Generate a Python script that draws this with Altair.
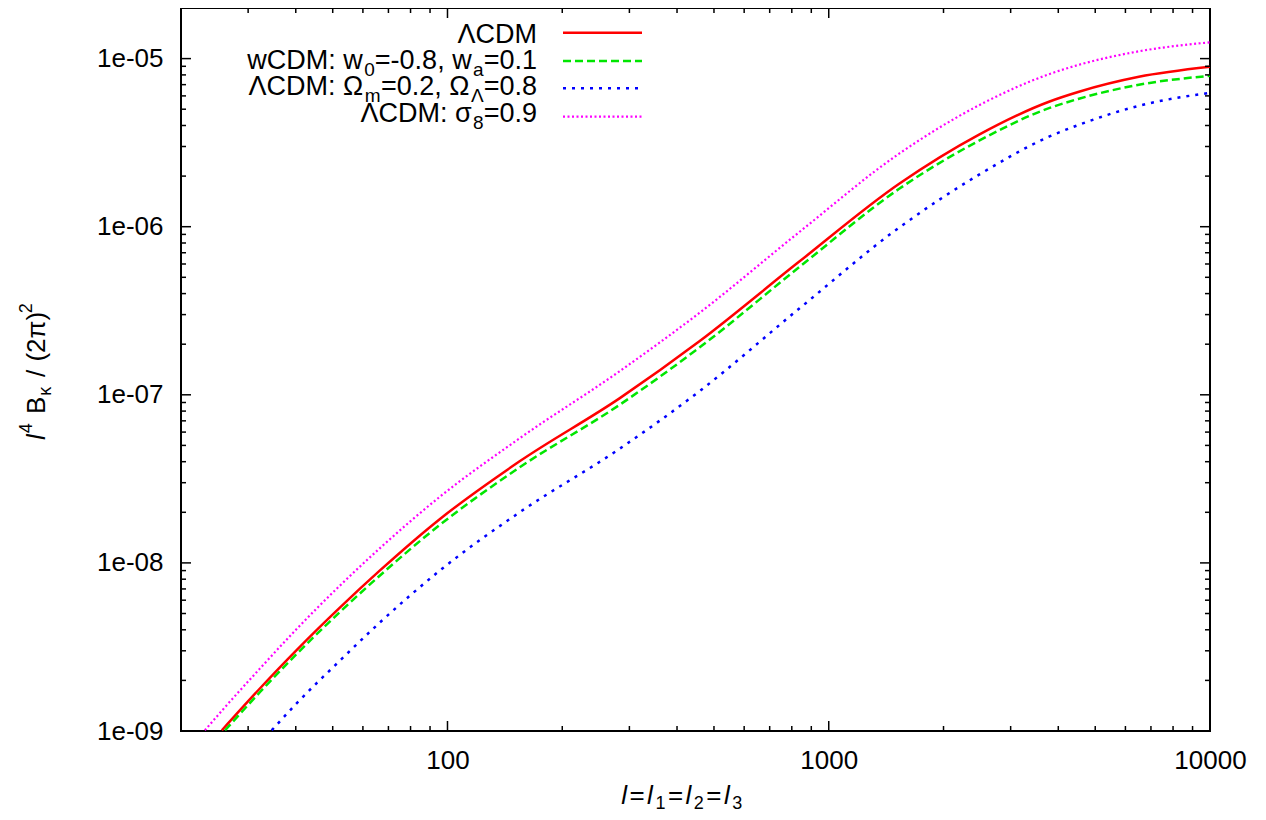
import altair as alt
import pandas as pd

# ---------------- data ----------------
ELL_LCDM = [25.6, 32.2, 40.2, 52.2, 66.4, 95.4, 154.6, 282.6, 457.9, 837, 1530, 2479, 3781, 4532, 6508, 10000]
B_LCDM = [1.01e-9, 1.79e-9, 3.03e-9, 5.42e-9, 8.99e-9, 1.82e-8, 4.02e-8, 9.52e-8, 2.08e-7, 6.20e-7, 1.80e-6, 3.53e-6, 5.54e-6, 6.35e-6, 7.79e-6, 8.94e-6]

ELL_WCDM = [26.1, 32.2, 40.2, 52.2, 66.4, 95.4, 154.6, 282.6, 457.9, 837, 1530, 2479, 3781, 4532, 6508, 10000]
B_WCDM = [1.01e-9, 1.70e-9, 2.87e-9, 5.10e-9, 8.39e-9, 1.68e-8, 3.70e-8, 8.71e-8, 1.91e-7, 5.75e-7, 1.68e-6, 3.25e-6, 5.07e-6, 5.77e-6, 6.99e-6, 7.90e-6]

ELL_OM = [34.6, 40.2, 52.2, 66.4, 95.4, 154.6, 282.6, 457.9, 837, 1530, 2479, 3781, 4532, 6508, 10000]
B_OM = [1.01e-9, 1.46e-9, 2.62e-9, 4.41e-9, 8.99e-9, 2.00e-8, 4.77e-8, 1.05e-7, 3.26e-7, 9.88e-7, 2.04e-6, 3.43e-6, 4.04e-6, 5.24e-6, 6.26e-6]

ELL_S8 = [23.1, 25.6, 32.2, 40.2, 52.2, 66.4, 95.4, 154.6, 282.6, 457.9, 837, 1530, 2479, 3781, 4532, 6508, 10000]
B_S8 = [1.01e-9, 1.32e-9, 2.35e-9, 4.04e-9, 7.32e-9, 1.22e-8, 2.47e-8, 5.51e-8, 1.38e-7, 3.07e-7, 9.29e-7, 2.72e-6, 5.28e-6, 8.07e-6, 9.19e-6, 1.105e-5, 1.25e-5]

X_DOMAIN = [20, 10000]
Y_DOMAIN = [1e-9, 2e-5]
X_LABELS = [100, 1000, 10000]
Y_LABELS = [1e-9, 1e-8, 1e-7, 1e-6, 1e-5]
X_MINOR = [m * d for d in (10, 100, 1000) for m in range(2, 10) if m * d >= 20]
Y_MINOR = [m * d for d in (1e-9, 1e-8, 1e-7, 1e-6, 1e-5) for m in range(2, 10) if m * d <= 2e-5]

# ---------------- layout ----------------
W, H = 1029, 723
FONT = "Liberation Sans"
FS = 26
FS_SUB = 18
FS_LEG = 27
FS_LEG_SUB = 19

xscale = alt.Scale(type="log", domain=X_DOMAIN)
yscale = alt.Scale(type="log", domain=Y_DOMAIN)

XAX = alt.Axis(values=X_LABELS, format="d", ticks=False, domain=False, grid=False,
               labelFont=FONT, labelFontSize=FS, labelColor="black", labelPadding=16,
               title=None, labelFlush=False, labelOverlap=False)
YAX = alt.Axis(values=Y_LABELS, labelExpr="'1e-0' + format(-round(log(datum.value)/LN10), 'd')",
               ticks=False, domain=False, grid=False, labelFont=FONT, labelFontSize=FS,
               labelColor="black", labelPadding=18, title=None, labelFlush=False,
               labelOverlap=False)

layers = []


def series(ell, b, color, width, dash=None):
    df = pd.DataFrame({"l": ell, "b": b})
    kw = dict(color=color, strokeWidth=width, interpolate="monotone", clip=True)
    if dash:
        kw["strokeDash"] = dash
    return alt.Chart(df).mark_line(**kw).encode(
        x=alt.X("l:Q", scale=xscale, axis=XAX),
        y=alt.Y("b:Q", scale=yscale, axis=YAX),
    )


RED, GREEN, BLUE, MAGENTA = "#ff0000", "#00e600", "#0000ff", "#ff00ff"
DASH_G, DASH_B, DASH_M = [8, 4], [3, 6], [2, 2.5]

layers.append(series(ELL_LCDM, B_LCDM, RED, 2.5))
layers.append(series(ELL_WCDM, B_WCDM, GREEN, 2.5, dash=DASH_G))
layers.append(series(ELL_OM, B_OM, BLUE, 2.5, dash=DASH_B))
layers.append(series(ELL_S8, B_S8, MAGENTA, 2.2, dash=DASH_M))


# ---------------- inward ticks on all four sides ----------------
def xticks(vals, length):
    df = pd.DataFrame({"v": vals})
    base = alt.Chart(df).mark_rule(color="black", strokeWidth=1.5)
    enc = alt.X("v:Q", scale=xscale, axis=XAX)
    return [base.encode(x=enc, y=alt.value(H), y2=alt.value(H - length)),
            base.encode(x=enc, y=alt.value(0), y2=alt.value(length))]


def yticks(vals, length):
    df = pd.DataFrame({"v": vals})
    base = alt.Chart(df).mark_rule(color="black", strokeWidth=1.5)
    enc = alt.Y("v:Q", scale=yscale, axis=YAX)
    return [base.encode(y=enc, x=alt.value(0), x2=alt.value(length)),
            base.encode(y=enc, x=alt.value(W), x2=alt.value(W - length))]


layers += xticks(X_LABELS, 10) + xticks(X_MINOR, 5)
layers += yticks(Y_LABELS, 10) + yticks(Y_MINOR, 5)

# ---------------- text helpers ----------------
ONE = pd.DataFrame({"k": [0]})

# approximate advance widths (em) of Liberation Sans, used only to chain text pieces
ADV = {"0": .556, "1": .556, "2": .556, "3": .556, "4": .556, "5": .556, "6": .556, "7": .556,
       "8": .556, "9": .556, "=": .584, "-": .333, ".": .278, ",": .278, " ": .278, ":": .278,
       "w": .722, "C": .722, "D": .722, "M": .833, "a": .556, "m": .833, "B": .667, "l": .222,
       "/": .278, "(": .333, ")": .333, "\u039b": .667, "\u03a9": .768, "\u03c3": .6,
       "\u03ba": .52, "\u03c0": .6}


def tw(s, size):
    return sum(ADV.get(c, .556) for c in s) * size


def txt(s, x, y, size=FS, align="left", italic=False, angle=0):
    kw = dict(text=s, font=FONT, fontSize=size, color="black", align=align, baseline="alphabetic")
    if italic:
        kw["fontStyle"] = "italic"
    if angle:
        kw["angle"] = angle
    return alt.Chart(ONE).mark_text(**kw).encode(x=alt.value(x), y=alt.value(y))


# legend (key) text: right aligned rows with subscripts, chained from the right edge
R = 356
SUB_DROP = 7
legend_rows = [
    (34.5, [("\u039bCDM", 0)]),
    (60.5, [("wCDM: w", 0), ("0", 1), ("=-0.8, w", 0), ("a", 1), ("=0.1", 0)]),
    (87.0, [("\u039bCDM: \u03a9", 0), ("m", 1), ("=0.2, \u03a9", 0), ("\u039b", 1), ("=0.8", 0)]),
    (114.0, [("\u039bCDM: \u03c3", 0), ("8", 1), ("=0.9", 0)]),
]
for base_y, segs in legend_rows:
    cur = R
    for s, sub in reversed(segs):
        size = FS_LEG_SUB if sub else FS_LEG
        layers.append(txt(s, cur, base_y + (SUB_DROP if sub else 0), size=size, align="right"))
        cur -= tw(s, size) + (1.5 if sub else 0)

# legend line samples
samples = [(RED, None, 2.5, 24.7), (GREEN, DASH_G, 2.5, 53), (BLUE, DASH_B, 2.5, 80.3),
           (MAGENTA, DASH_M, 2.2, 108.7)]
for color, dash, width, yy in samples:
    kw = dict(color=color, strokeWidth=width)
    if dash:
        kw["strokeDash"] = dash
    layers.append(alt.Chart(ONE).mark_rule(**kw).encode(x=alt.value(382), x2=alt.value(461), y=alt.value(yy)))

# y axis title: l^4 B_kappa / (2 pi)^2, rotated, chained upwards (None = a space)
YT_BASE = -136
SPACE = tw(" ", FS)
ytitle = [("l", "main", True), ("4", "sup", False), (None, "", False), ("B", "main", False),
          ("\u03ba", "sub", False), (None, "", False), ("/", "main", False), (None, "", False),
          ("(2\u03c0)", "main", False), ("2", "sup", False)]
cur = 432
for s, kind, ital in ytitle:
    if s is None:
        cur -= SPACE
        continue
    size = FS if kind == "main" else FS_SUB
    bx = YT_BASE + {"main": 0, "sup": -13, "sub": 6}[kind]
    layers.append(txt(s, bx, cur, size=size, italic=ital, angle=270))
    cur -= tw(s, size) + (2 if kind != "main" else 1)

# x axis title: l=l1=l2=l3, chained from the left and centred
XB = 796
xtitle = [("l", 0, True), ("=", 0, False), ("l", 0, True), ("1", 1, False), ("=", 0, False),
          ("l", 0, True), ("2", 1, False), ("=", 0, False), ("l", 0, True), ("3", 1, False)]
GAP = 2.5
total = sum(tw(s, FS_SUB if sub else FS) + GAP for s, sub, _ in xtitle)
cur = 502 - total / 2
for s, sub, ital in xtitle:
    size = FS_SUB if sub else FS
    layers.append(txt(s, cur, XB + (5 if sub else 0), size=size, italic=ital))
    cur += tw(s, size) + GAP

chart = alt.layer(*layers).properties(
    width=W, height=H,
    autosize=alt.AutoSizeParams(type="none"),
    padding={"left": 173, "top": 0, "right": 48, "bottom": 81},
    background="white",
).configure_view(stroke="black", strokeWidth=2)

chart.save("out.html", embed_options={"renderer": "svg", "actions": False})
